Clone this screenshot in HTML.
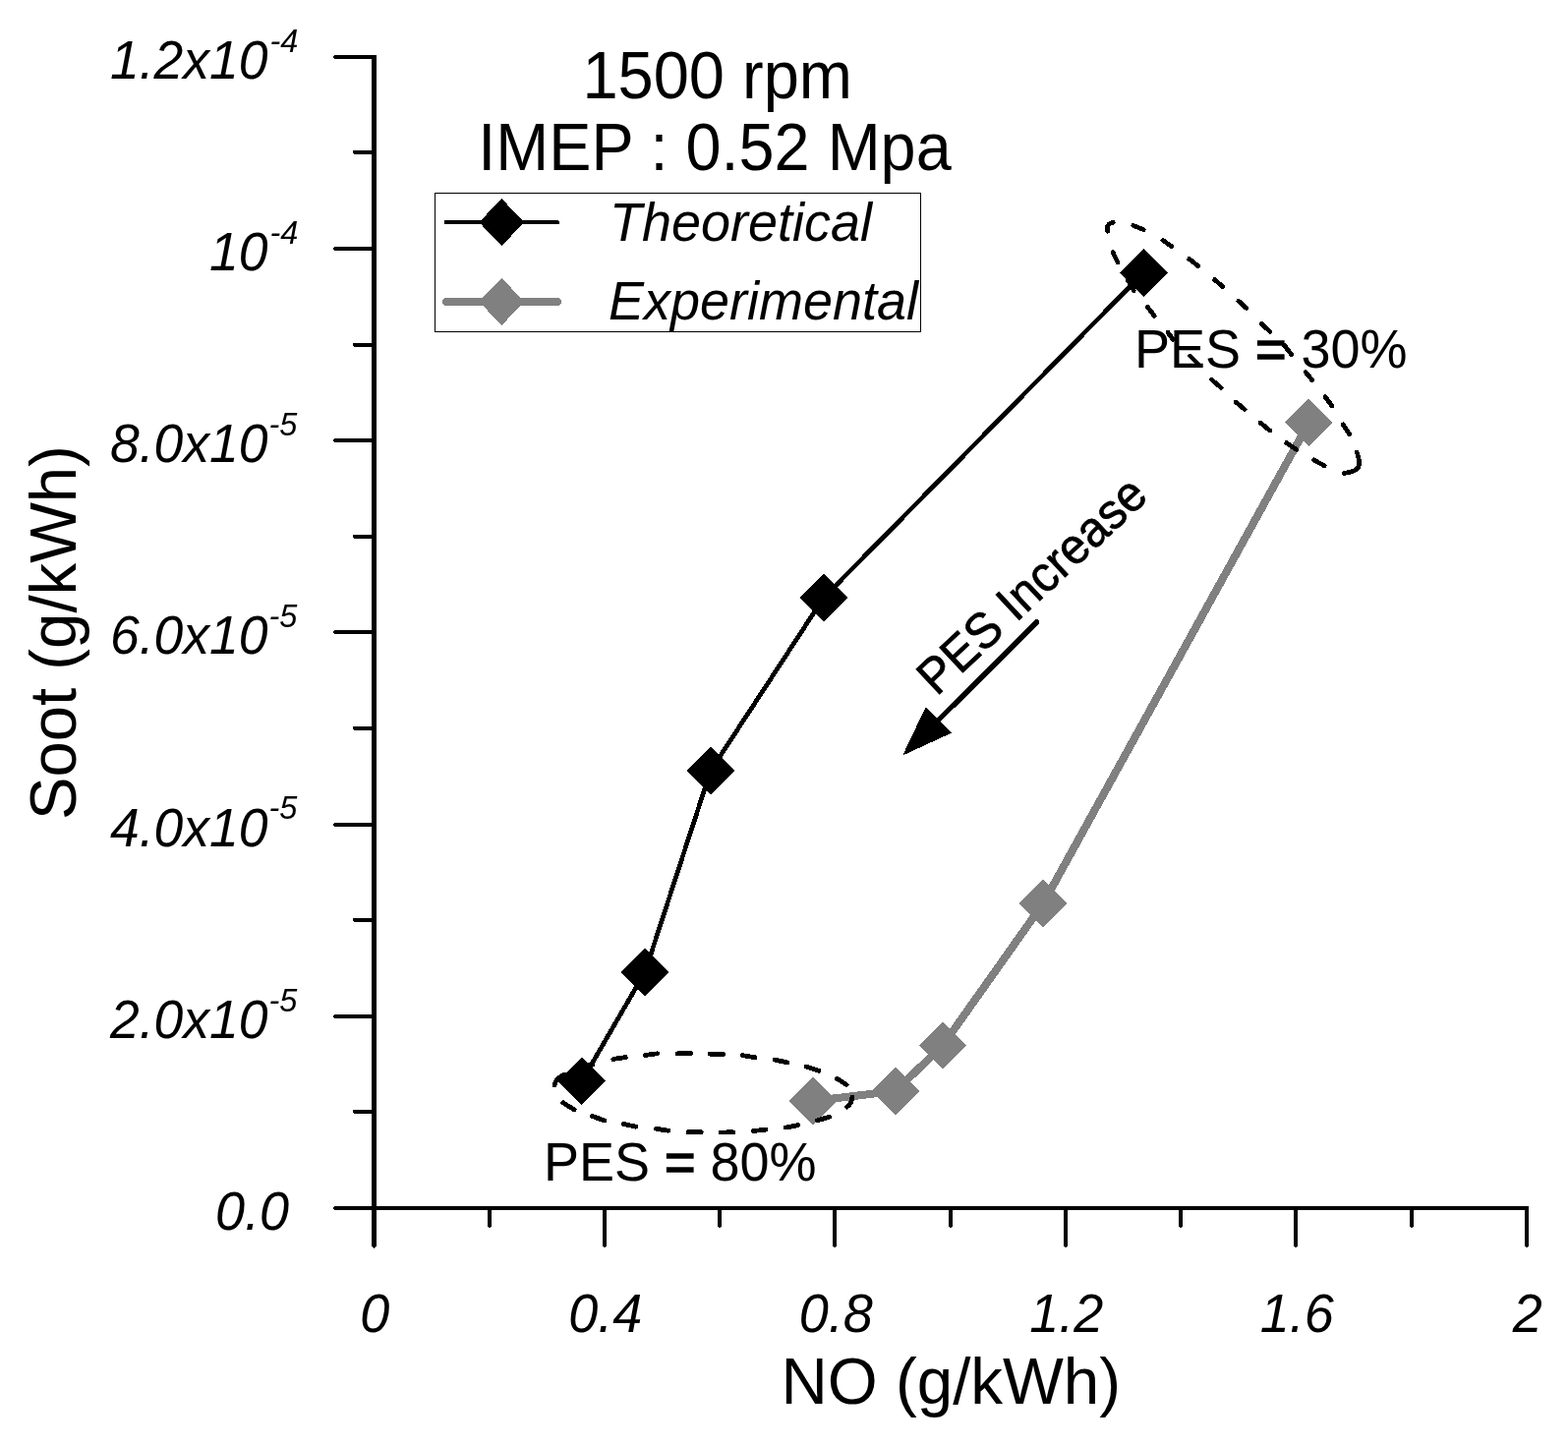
<!DOCTYPE html>
<html lang="en"><head><meta charset="utf-8"><title>Soot vs NO</title>
<style>
html,body{margin:0;padding:0;background:#fff;}
body{width:1595px;height:1471px;overflow:hidden;}
svg{display:block;}
text{font-family:"Liberation Sans",sans-serif;fill:#000;}
</style></head><body>
<svg width="1595" height="1471" viewBox="0 0 1595 1471" shape-rendering="crispEdges">
<rect width="1595" height="1471" fill="#fff"/>
<g stroke="#000" fill="none" stroke-linecap="butt">
<line x1="380.5" y1="56" x2="380.5" y2="1267.95" stroke-width="5"/>
<line x1="340.10" y1="1229" x2="1555" y2="1229" stroke-width="4"/>
<g stroke-width="4">
<line x1="359.80" y1="1131.00" x2="380.4" y2="1131.00"/>
<line x1="340.10" y1="1034.00" x2="380.4" y2="1034.00"/>
<line x1="359.80" y1="936.00" x2="380.4" y2="936.00"/>
<line x1="340.10" y1="839.00" x2="380.4" y2="839.00"/>
<line x1="359.80" y1="741.00" x2="380.4" y2="741.00"/>
<line x1="340.10" y1="643.00" x2="380.4" y2="643.00"/>
<line x1="359.80" y1="546.00" x2="380.4" y2="546.00"/>
<line x1="340.10" y1="448.00" x2="380.4" y2="448.00"/>
<line x1="359.80" y1="351.00" x2="380.4" y2="351.00"/>
<line x1="340.10" y1="253.00" x2="380.4" y2="253.00"/>
<line x1="359.80" y1="155.00" x2="380.4" y2="155.00"/>
<line x1="340.10" y1="58.00" x2="380.4" y2="58.00"/>
</g>
<g stroke-width="4">
<line x1="498.00" y1="1228.95" x2="498.00" y2="1247.95"/>
<line x1="615.00" y1="1228.95" x2="615.00" y2="1267.95"/>
<line x1="732.00" y1="1228.95" x2="732.00" y2="1247.95"/>
<line x1="849.00" y1="1228.95" x2="849.00" y2="1267.95"/>
<line x1="967.00" y1="1228.95" x2="967.00" y2="1247.95"/>
<line x1="1084.00" y1="1228.95" x2="1084.00" y2="1267.95"/>
<line x1="1201.00" y1="1228.95" x2="1201.00" y2="1247.95"/>
<line x1="1318.00" y1="1228.95" x2="1318.00" y2="1267.95"/>
<line x1="1436.00" y1="1228.95" x2="1436.00" y2="1247.95"/>
<line x1="1553.00" y1="1228.95" x2="1553.00" y2="1267.95"/>
</g>
</g>
<path d="M340.10 1227.00L338.80 1228.70L340.10 1231.00ZM359.80 1129.00L358.50 1130.70L359.80 1133.00ZM340.10 1032.00L338.80 1033.70L340.10 1036.00ZM359.80 934.00L358.50 935.70L359.80 938.00ZM340.10 837.00L338.80 838.70L340.10 841.00ZM359.80 739.00L358.50 740.70L359.80 743.00ZM340.10 641.00L338.80 642.70L340.10 645.00ZM359.80 544.00L358.50 545.70L359.80 548.00ZM340.10 446.00L338.80 447.70L340.10 450.00ZM359.80 349.00L358.50 350.70L359.80 353.00ZM340.10 251.00L338.80 252.70L340.10 255.00ZM359.80 153.00L358.50 154.70L359.80 157.00ZM340.10 56.00L338.80 57.70L340.10 60.00ZM377.80 1267.95L380.40 1269.75L383.00 1267.95ZM496.00 1247.95L498.00 1249.75L500.00 1247.95ZM613.00 1267.95L615.00 1269.75L617.00 1267.95ZM730.00 1247.95L732.00 1249.75L734.00 1247.95ZM847.00 1267.95L849.00 1269.75L851.00 1267.95ZM965.00 1247.95L967.00 1249.75L969.00 1247.95ZM1082.00 1267.95L1084.00 1269.75L1086.00 1267.95ZM1199.00 1247.95L1201.00 1249.75L1203.00 1247.95ZM1316.00 1267.95L1318.00 1269.75L1320.00 1267.95ZM1434.00 1247.95L1436.00 1249.75L1438.00 1247.95ZM1551.00 1267.95L1553.00 1269.75L1555.00 1267.95Z" fill="#000"/>
<text transform="translate(272.6 79.9) scale(1 1.05)" style="font-size:53.5px;font-style:italic" text-anchor="end">1.2x10</text>
<text transform="translate(303.3 52.7) scale(1 1.02)" style="font-size:32.5px;font-style:italic" text-anchor="end">-4</text>
<text transform="translate(272.6 275.1) scale(1 1.05)" style="font-size:53.5px;font-style:italic" text-anchor="end">10</text>
<text transform="translate(303.3 247.9) scale(1 1.02)" style="font-size:32.5px;font-style:italic" text-anchor="end">-4</text>
<text transform="translate(272.6 470.2) scale(1 1.05)" style="font-size:53.5px;font-style:italic" text-anchor="end">8.0x10</text>
<text transform="translate(302.3 443.1) scale(1 1.02)" style="font-size:32.5px;font-style:italic" text-anchor="end">-5</text>
<text transform="translate(272.6 665.4) scale(1 1.05)" style="font-size:53.5px;font-style:italic" text-anchor="end">6.0x10</text>
<text transform="translate(302.3 638.2) scale(1 1.02)" style="font-size:32.5px;font-style:italic" text-anchor="end">-5</text>
<text transform="translate(272.6 860.6) scale(1 1.05)" style="font-size:53.5px;font-style:italic" text-anchor="end">4.0x10</text>
<text transform="translate(302.3 833.4) scale(1 1.02)" style="font-size:32.5px;font-style:italic" text-anchor="end">-5</text>
<text transform="translate(272.6 1055.8) scale(1 1.05)" style="font-size:53.5px;font-style:italic" text-anchor="end">2.0x10</text>
<text transform="translate(302.3 1028.6) scale(1 1.02)" style="font-size:32.5px;font-style:italic" text-anchor="end">-5</text>
<text transform="translate(294 1251) scale(1 1.04)" style="font-size:54px;font-style:italic" text-anchor="end">0.0</text>
<text transform="translate(381.2 1355) scale(1 1.04)" style="font-size:54px;font-style:italic" text-anchor="middle">0</text>
<text transform="translate(615.7 1355) scale(1 1.04)" style="font-size:54px;font-style:italic" text-anchor="middle">0.4</text>
<text transform="translate(850.2 1355) scale(1 1.04)" style="font-size:54px;font-style:italic" text-anchor="middle">0.8</text>
<text transform="translate(1084.7 1355) scale(1 1.04)" style="font-size:54px;font-style:italic" text-anchor="middle">1.2</text>
<text transform="translate(1319.2 1355) scale(1 1.04)" style="font-size:54px;font-style:italic" text-anchor="middle">1.6</text>
<text transform="translate(1553.7 1355) scale(1 1.04)" style="font-size:54px;font-style:italic" text-anchor="middle">2</text>
<text transform="translate(967.3 1428) scale(1 1.03)" style="font-size:65.5px" text-anchor="middle">NO (g/kWh)</text>
<text transform="translate(76.6 643.6) rotate(-90) scale(1 1.03)" style="font-size:65.3px" text-anchor="middle">Soot (g/kWh)</text>
<text transform="translate(729.7 99.6) scale(1 1.04)" style="font-size:65px" text-anchor="middle">1500 rpm</text>
<text transform="translate(727 173.1) scale(1 1.045)" style="font-size:64.8px" text-anchor="middle">IMEP : 0.52 Mpa</text>
<rect x="442.5" y="196.5" width="494" height="141" fill="#fff" stroke="#000" stroke-width="1"/>
<line x1="453.6" y1="226.1" x2="567.2" y2="226.1" stroke="#000" stroke-width="4" stroke-linecap="round"/>
<line x1="453.7" y1="307" x2="567" y2="307" stroke="#808080" stroke-width="7.7" stroke-linecap="round"/>
<path d="M487.3 226.1L510.3 202.0L533.3 226.1L510.3 250.2Z" fill="#000"/>
<path d="M487.3 306.9L510.3 282.8L533.3 306.9L510.3 331.0Z" fill="#808080"/>
<text transform="translate(620 244.5) scale(1 1.02)" style="font-size:54px;font-style:italic">Theoretical</text>
<text transform="translate(619 324.5) scale(1 1.02)" style="font-size:54px;font-style:italic">Experimental</text>
<polyline fill="none" stroke="#000" stroke-width="4.7" stroke-linejoin="round" points="591.7,1099.9 656,989.2 722.9,784 838,608 1163.4,277.3"/>
<path d="M567.3 1099.9L591.7 1075.5L616.1 1099.9L591.7 1124.3Z" fill="#000"/>
<path d="M631.6 989.2L656.0 964.8L680.4 989.2L656.0 1013.6Z" fill="#000"/>
<path d="M698.5 784.0L722.9 759.6L747.3 784.0L722.9 808.4Z" fill="#000"/>
<path d="M813.6 608.0L838.0 583.6L862.4 608.0L838.0 632.4Z" fill="#000"/>
<path d="M1139.0 277.3L1163.4 252.9L1187.8 277.3L1163.4 301.7Z" fill="#000"/>
<polyline fill="none" stroke="#808080" stroke-width="8" stroke-linejoin="round" points="826.8,1120 910.8,1109.9 959,1063.5 1061,919.3 1331.4,430"/>
<path d="M802.4 1120.0L826.8 1095.6L851.2 1120.0L826.8 1144.4Z" fill="#808080"/>
<path d="M886.4 1109.9L910.8 1085.5L935.2 1109.9L910.8 1134.3Z" fill="#808080"/>
<path d="M934.6 1063.5L959.0 1039.1L983.4 1063.5L959.0 1087.9Z" fill="#808080"/>
<path d="M1036.6 919.3L1061.0 894.9L1085.4 919.3L1061.0 943.7Z" fill="#808080"/>
<path d="M1307.0 430.0L1331.4 405.6L1355.8 430.0L1331.4 454.4Z" fill="#808080"/>
<path d="M1126.5 235.3C1125.8 231.5 1127 228.5 1129.5 227.3C1130.5 226.7 1131.5 226.4 1132.3 226.3M1152.9 229.5L1163.3 233.6M1182.9 244.5L1191.6 250.5M1209.7 263.5L1218.5 270.4M1235.6 284.6L1243.5 291.4M1259.9 306.3L1267.6 313.4M1283.4 329.2L1291.7 337.3M1306.5 351.4L1313.8 360.9M1328.0 378.4L1334.8 386.7M1348.0 403.6L1355.0 413.1M1366.1 431.9L1372.5 441.4M1380.2 460C1382.5 466 1383.5 472 1381.5 475.5C1379.5 479 1374 480.5 1367 481.4M1347.1 473.8L1336.5 467.9M1318.8 457.5L1308.7 450.5M1291.8 438.0L1282.2 430.1M1266.1 416.5L1257.0 409.0M1242.2 394.5L1232.7 386.4M1219.6 371.2L1210.5 362.0M1193.1 345.3L1187.9 338.0M1174.3 321.4L1167.5 312.5M1153.3 295.5L1147.2 284.9M1137.1 267.1L1132.0 256.7" fill="none" stroke="#000" stroke-width="4.7" stroke-linecap="round" stroke-linejoin="round"/>
<path d="M564 1104C565 1099.5 568.5 1095.5 574 1093.3M591.6 1085.6L602.9 1082.9M623.8 1077.5L636.4 1075.5M656.3 1073.4L668.6 1071.8M689.3 1071.8L702.8 1071.4M721.9 1072.2L735.6 1072.5M755.2 1073.7L767.8 1075.7M787.9 1078.1L800.9 1080.9M820.0 1085.1L832.8 1089.2M851.3 1097.2L861.1 1103.5M866.8 1116C866.8 1120 865 1123.5 861.5 1126M831.3 1139.9L843.5 1136.2M799.2 1147.1L811.6 1144.7M766.2 1150.6L778.8 1149.1M733.2 1152.1L745.8 1151.7M700.0 1151.7L713.2 1151.7M667.3 1148.3L679.9 1150.2M634.2 1143.3L646.8 1146.2M602.3 1135.5L614.9 1139.9M572.8 1121.8L584.1 1128.9" fill="none" stroke="#000" stroke-width="4.8" stroke-linecap="round" stroke-linejoin="round"/>
<text transform="translate(1154 374) scale(1 1.04)" style="font-size:54px">PES <tspan stroke="#000" stroke-width="1.5">=</tspan> 30%</text>
<text transform="translate(553 1201) scale(1 1.04)" style="font-size:54px">PES <tspan stroke="#000" stroke-width="1.5">=</tspan> 80%</text>
<line x1="1054.6" y1="632.8" x2="950" y2="737" stroke="#000" stroke-width="5.6" stroke-linecap="round"/>
<path d="M918.1 768.6L941.7 719.2L968 745.5Z" fill="#000"/>
<text stroke="#000" stroke-width="0.7" transform="translate(952.8 709.1) rotate(-43) scale(1 1.05)" style="font-size:48.5px">PES Increase</text>
</svg>
</body></html>
